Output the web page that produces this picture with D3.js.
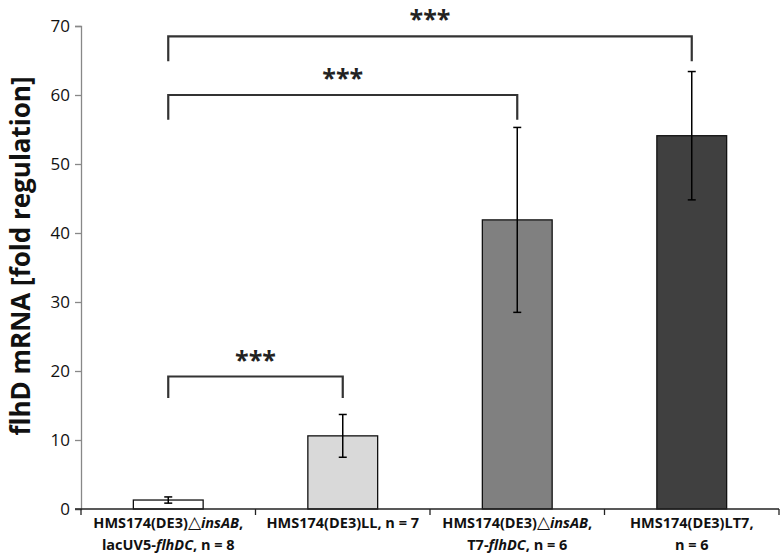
<!DOCTYPE html>
<html><head><meta charset="utf-8">
<script src="https://cdn.jsdelivr.net/npm/d3@7"></script>
<style>body{margin:0;background:#fff}</style>
</head><body>
<svg id="chart" width="784" height="558"></svg>
<script>
const categories = ["c1","c2","c3","c4"];
const values = [1.3, 10.6, 41.9, 54.1];
const errors = [0.45, 3.1, 13.4, 9.3];
const barColors = ["#ffffff","#d9d9d9","#808080","#404040"];
const yTicks = [0,10,20,30,40,50,60,70];
// label lines: arrays of [text, style] segments
const labelLines = [
  [[["HMS174(DE3)","b"],["\u25B3","n"],["insAB","i"],[",","b"]], [["lacUV5-","b"],["flhDC","i"],[", n = 8","b"]]],
  [[["HMS174(DE3)LL, n = 7","b"]]],
  [[["HMS174(DE3)","b"],["\u25B3","n"],["insAB","i"],[",","b"]], [["T7-","b"],["flhDC","i"],[", n = 6","b"]]],
  [[["HMS174(DE3)LT7,","b"]], [["n = 6","b"]]]
];
// significance brackets: from index, to index, top value, arm-end value, label
const brackets = [
  {from:0, to:1, top:19.2, arm:16.1, label:"***"},
  {from:0, to:2, top:60.0, arm:56.4, label:"***"},
  {from:0, to:3, top:68.5, arm:64.9, label:"***"}
];
const yTitle = "flhD mRNA [fold regulation]";

const svg = d3.select("#chart");
const x = d3.scaleBand().domain(categories).range([81, 779]).paddingInner(0.6).paddingOuter(0.3);
const y = d3.scaleLinear().domain([0,70]).range([509, 26]);
const font = "'Open Sans', sans-serif";

// y axis
const ya = svg.append("g").attr("transform","translate(81,0)")
  .call(d3.axisLeft(y).tickValues(yTicks).tickSize(6).tickPadding(5));
ya.select(".domain").attr("stroke","#888").attr("stroke-width",1.3);
ya.selectAll(".tick line").attr("stroke","#888").attr("stroke-width",1.3);
ya.selectAll(".tick text").attr("font-family",font).attr("font-size",17).attr("fill","#111");

// bars
svg.append("g").selectAll("rect").data(categories).join("rect")
  .attr("x", d=>x(d)).attr("width", x.bandwidth())
  .attr("y", (d,i)=>y(values[i])).attr("height",(d,i)=>y(0)-y(values[i]))
  .attr("fill",(d,i)=>barColors[i]).attr("stroke","#111").attr("stroke-width",1.3);

// error bars
const eg = svg.append("g").attr("stroke","#000").attr("stroke-width",1.5);
categories.forEach((c,i)=>{
  const cx = x(c)+x.bandwidth()/2;
  const hi = y(values[i]+errors[i]), lo = y(values[i]-errors[i]);
  eg.append("line").attr("x1",cx).attr("x2",cx).attr("y1",hi).attr("y2",lo);
  eg.append("line").attr("x1",cx-4).attr("x2",cx+4).attr("y1",hi).attr("y2",hi);
  eg.append("line").attr("x1",cx-4).attr("x2",cx+4).attr("y1",lo).attr("y2",lo);
});

// x axis
const step = x.step();
const xa = svg.append("g");
xa.append("line").attr("x1",75).attr("x2",779).attr("y1",y(0)).attr("y2",y(0)).attr("stroke","#222").attr("stroke-width",1.3);
const bounds = d3.range(categories.length+1).map(k=> x.range()[0] + k*step);
xa.selectAll("line.t").data(bounds).join("line").attr("class","t")
  .attr("x1",d=>d).attr("x2",d=>d).attr("y1",y(0)).attr("y2",y(0)+6)
  .attr("stroke","#222").attr("stroke-width",1.3);

// x labels
categories.forEach((c,i)=>{
  const cx = x(c)+x.bandwidth()/2;
  labelLines[i].forEach((line,li)=>{
    const t = svg.append("text").attr("x",cx).attr("y",528+li*22)
      .attr("text-anchor","middle").attr("font-family",font).attr("font-size",14.5).attr("fill","#111");
    line.forEach(([s,st])=>{
      const ts = t.append("tspan").text(s);
      if(st==="b") ts.attr("font-weight","bold");
      if(st==="i") ts.attr("font-weight","bold").attr("font-style","italic");
      if(st==="n") ts.attr("font-weight","normal").attr("font-family","'DejaVu Sans', sans-serif").attr("font-size",17);
    });
  });
});

// brackets
const bg = svg.append("g");
brackets.forEach(b=>{
  const x1 = x(categories[b.from])+x.bandwidth()/2;
  const x2 = x(categories[b.to])+x.bandwidth()/2;
  bg.append("path").attr("d",`M${x1},${y(b.arm)}V${y(b.top)}H${x2}V${y(b.arm)}`)
    .attr("fill","none").attr("stroke","#333").attr("stroke-width",2.2);
  bg.append("text").attr("x",(x1+x2)/2).attr("y",y(b.top)-8)
    .attr("text-anchor","middle").attr("font-family",font).attr("font-weight","bold")
    .attr("font-size",25).attr("fill","#222").text(b.label);
});

// y title
svg.append("text").attr("transform","translate(30,256) rotate(-90)")
  .attr("text-anchor","middle").attr("font-family",font).attr("font-weight","bold")
  .attr("font-size",26).attr("fill","#111").text(yTitle);
</script>
</body></html>
